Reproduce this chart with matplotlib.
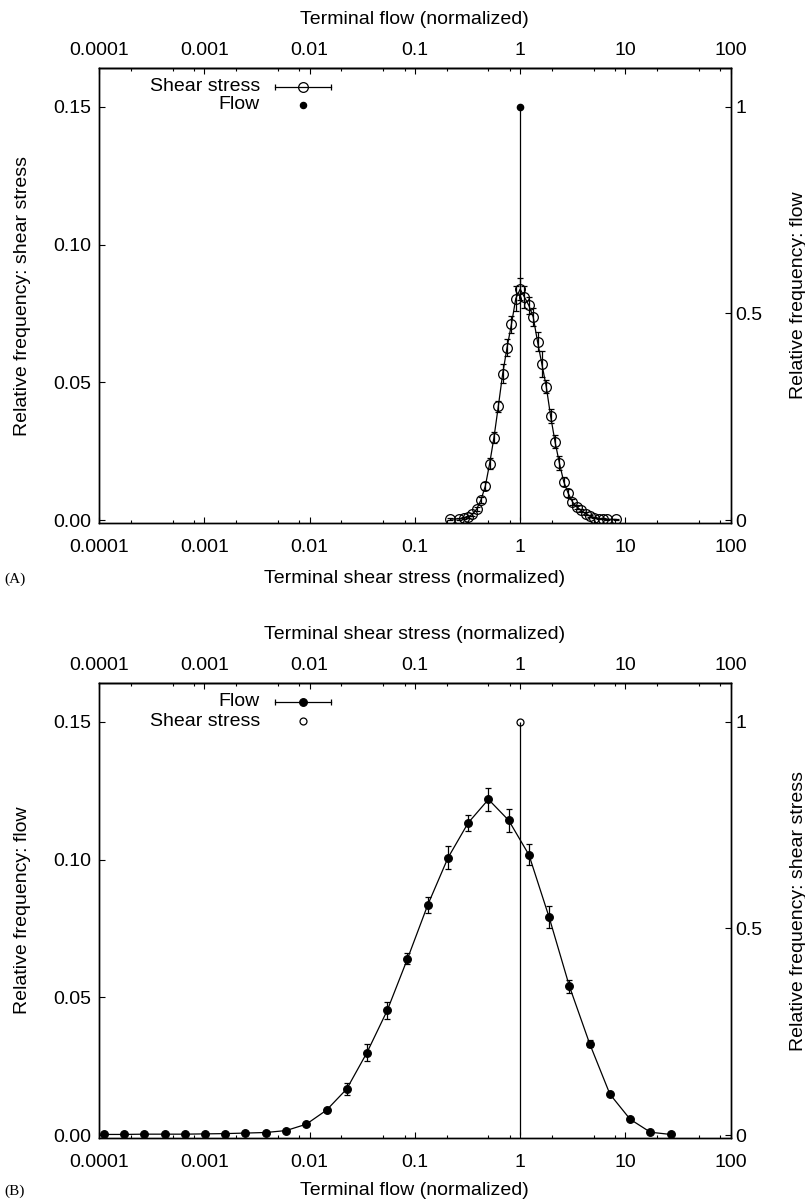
import matplotlib as mpl
import numpy as np
mpl.use('Agg')
import matplotlib.pyplot as plt
from matplotlib.ticker import LogLocator, NullFormatter, FixedLocator, FixedFormatter

plt.rcParams['font.family'] = ['Liberation Sans', 'DejaVu Sans']
plt.rcParams['font.size'] = 14

# ---- panel A: shear stress histogram (left axis) + flow (right axis)
shear_x = [0.218, 0.263, 0.290, 0.319, 0.350, 0.386, 0.424, 0.467, 0.513, 0.564,
           0.621, 0.683, 0.751, 0.826, 0.909, 1.0, 1.1, 1.21, 1.331, 1.464,
           1.611, 1.772, 1.949, 2.144, 2.358, 2.594, 2.853, 3.138, 3.452, 3.797,
           4.177, 4.595, 5.054, 5.560, 6.116, 6.727, 8.140]
shear_y = [0.0004, 0.0005, 0.0008, 0.0012, 0.0021, 0.0040, 0.0073, 0.0124, 0.0205, 0.0300,
           0.0414, 0.0532, 0.0626, 0.0710, 0.0804, 0.0838, 0.0809, 0.0779, 0.0737, 0.0647,
           0.0565, 0.0484, 0.0377, 0.0285, 0.0208, 0.0140, 0.0099, 0.0067, 0.0048, 0.0036,
           0.0024, 0.0016, 0.0010, 0.0006, 0.0005, 0.0004, 0.0003]
shear_err = [0.0003, 0.0003, 0.0004, 0.0005, 0.0006, 0.0008, 0.0010, 0.0015, 0.0020, 0.0020,
             0.0020, 0.0033, 0.0030, 0.0030, 0.0045, 0.0040, 0.0040, 0.0030, 0.0033, 0.0034,
             0.0047, 0.0024, 0.0025, 0.0024, 0.0024, 0.0017, 0.0013, 0.0010, 0.0008, 0.0006,
             0.0005, 0.0004, 0.0003, 0.0003, 0.0002, 0.0002, 0.0002]
flow_a_x = [1.0]
flow_a_y = [1.0]

# ---- panel B: flow histogram (left axis) + shear stress (right axis)
flow_x = [1.111e-4, 1.728e-4, 2.69e-4, 4.19e-4, 6.52e-4, 1.016e-3, 1.58e-3, 2.46e-3, 3.83e-3, 5.97e-3,
          9.30e-3, 0.01448, 0.02255, 0.0351, 0.0547, 0.0851, 0.1325, 0.2063, 0.3211, 0.5,
          0.7785, 1.212, 1.887, 2.939, 4.576, 7.125, 11.09, 17.27, 26.89]
flow_y = [0.0003, 0.0003, 0.0004, 0.0004, 0.0004, 0.0005, 0.0006, 0.0008, 0.0010, 0.0017,
          0.0040, 0.0091, 0.0168, 0.0300, 0.0453, 0.0640, 0.0835, 0.1006, 0.1133, 0.1218,
          0.1142, 0.1017, 0.0790, 0.0540, 0.0332, 0.0149, 0.0058, 0.0011, 0.0003]
flow_err = [0.0001, 0.0001, 0.0001, 0.0001, 0.0001, 0.0001, 0.0001, 0.0001, 0.0001, 0.0002,
            0.0003, 0.0007, 0.0023, 0.0032, 0.0030, 0.0020, 0.0029, 0.0042, 0.0030, 0.0042,
            0.0041, 0.0038, 0.0040, 0.0024, 0.0013, 0.0005, 0.0004, 0.0002, 0.0001]
shear_b_x = [1.0]
shear_b_y = [1.0]

decades = [1e-4, 1e-3, 1e-2, 1e-1, 1, 10, 100]
decade_labels = ['0.0001', '0.001', '0.01', '0.1', '1', '10', '100']
ylo, yhi = -0.001, 0.164
scale2 = 0.15


def log_ticks(axis):
    axis.set_major_locator(FixedLocator(decades))
    axis.set_major_formatter(FixedFormatter(decade_labels))
    axis.set_minor_locator(LogLocator(base=10, subs=[2, 5, 8], numticks=50))
    axis.set_minor_formatter(NullFormatter())


def setup(ax, ax2, ylab, y2lab, toplab, botlab, xpad):
    ax.set_xscale('log')
    log_ticks(ax.xaxis)
    ax.set_xlim(1e-4, 100)
    ax.set_ylim(ylo, yhi)
    ax2.set_ylim(ylo / scale2, yhi / scale2)
    ax.set_yticks([0, 0.05, 0.10, 0.15])
    ax.set_yticklabels(['0.00', '0.05', '0.10', '0.15'])
    ax2.set_yticks([0, 0.5, 1])
    ax2.set_yticklabels(['0', '0.5', '1'])
    ax.tick_params(axis='x', which='both', direction='in', top=False, bottom=True,
                   width=0.8, pad=11.5)
    ax.tick_params(axis='x', which='major', length=4.5)
    ax.tick_params(axis='x', which='minor', length=2.5)
    ax.tick_params(axis='y', direction='in', length=4.5, width=0.8, pad=5.8, right=False)
    ax2.tick_params(axis='y', direction='in', length=4.5, width=0.8, pad=3.5)

    top = ax.secondary_xaxis('top')
    log_ticks(top.xaxis)
    top.tick_params(axis='x', which='both', direction='in', width=0.8, pad=6.5)
    top.tick_params(axis='x', which='major', length=4.5)
    top.tick_params(axis='x', which='minor', length=2.5)
    top.spines['top'].set_linewidth(1.0)

    for a in (ax, ax2):
        for s in a.spines.values():
            s.set_linewidth(1.0)
    ax.set_ylabel(ylab)
    ax.yaxis.set_label_coords(-0.108, 0.5)
    ax2.set_ylabel(y2lab)
    ax2.yaxis.set_label_coords(1.094, 0.5)
    ax.set_xlabel(botlab, labelpad=xpad)
    ax.set_title(toplab, fontsize=14, pad=13)


def legend_entry(ax, y, label, mfc, ms, bars):
    ax.text(0.2549, y, label, transform=ax.transAxes, ha='right', va='center')
    if bars:
        ax.plot([0.2786, 0.3673], [y, y], color='black', lw=0.9, transform=ax.transAxes)
        ax.plot([0.2786, 0.3673], [y, y], ls='none', marker='|', ms=4, mew=0.9,
                color='black', transform=ax.transAxes)
    ax.plot([0.323], [y], ls='none', marker='o', mfc=mfc, mec='black', ms=ms,
            mew=0.9, transform=ax.transAxes)


fig = plt.figure(figsize=(8.05, 12.04), dpi=100)

# panel A
axA = fig.add_axes([0.123, 0.5656, 0.7847, 0.3779])
axA2 = axA.twinx()
setup(axA, axA2, 'Relative frequency: shear stress', 'Relative frequency: flow',
      'Terminal flow (normalized)', 'Terminal shear stress (normalized)', 10)
axA.errorbar(shear_x, shear_y, yerr=shear_err, fmt='-o', color='black', lw=0.9,
             elinewidth=0.9, capsize=2.2, capthick=0.9, mfc='none', mec='black',
             ms=7, mew=0.9)
axA2.vlines(flow_a_x, 0, flow_a_y, color='black', lw=0.9)
axA2.plot(flow_a_x, flow_a_y, 'o', color='black', ms=4.5)
legend_entry(axA, 0.959, 'Shear stress', 'none', 7, True)
legend_entry(axA, 0.919, 'Flow', 'black', 4.5, False)
fig.text(0.006, 1 - 579 / 1204, '(A)', family=['Liberation Serif', 'DejaVu Serif'],
         fontsize=11, va='center')

# panel B
axB = fig.add_axes([0.123, 0.0548, 0.7847, 0.3779])
axB2 = axB.twinx()
setup(axB, axB2, 'Relative frequency: flow', 'Relative frequency: shear stress',
      'Terminal shear stress (normalized)', 'Terminal flow (normalized)', 8)
axB.errorbar(flow_x, flow_y, yerr=flow_err, fmt='-o', color='black', lw=0.9,
             elinewidth=0.9, capsize=2.5, capthick=0.9, mfc='black', mec='black',
             ms=5.5, mew=0.9)
axB2.vlines(shear_b_x, 0, shear_b_y, color='black', lw=0.9)
axB2.plot(shear_b_x, shear_b_y, 'o', mfc='none', mec='black', ms=5, mew=0.9)
legend_entry(axB, 0.959, 'Flow', 'black', 5.5, True)
legend_entry(axB, 0.916, 'Shear stress', 'none', 5, False)
fig.text(0.006, 1 - 1191 / 1204, '(B)', family=['Liberation Serif', 'DejaVu Serif'],
         fontsize=11, va='center')

plt.savefig('out.png', dpi=100)
